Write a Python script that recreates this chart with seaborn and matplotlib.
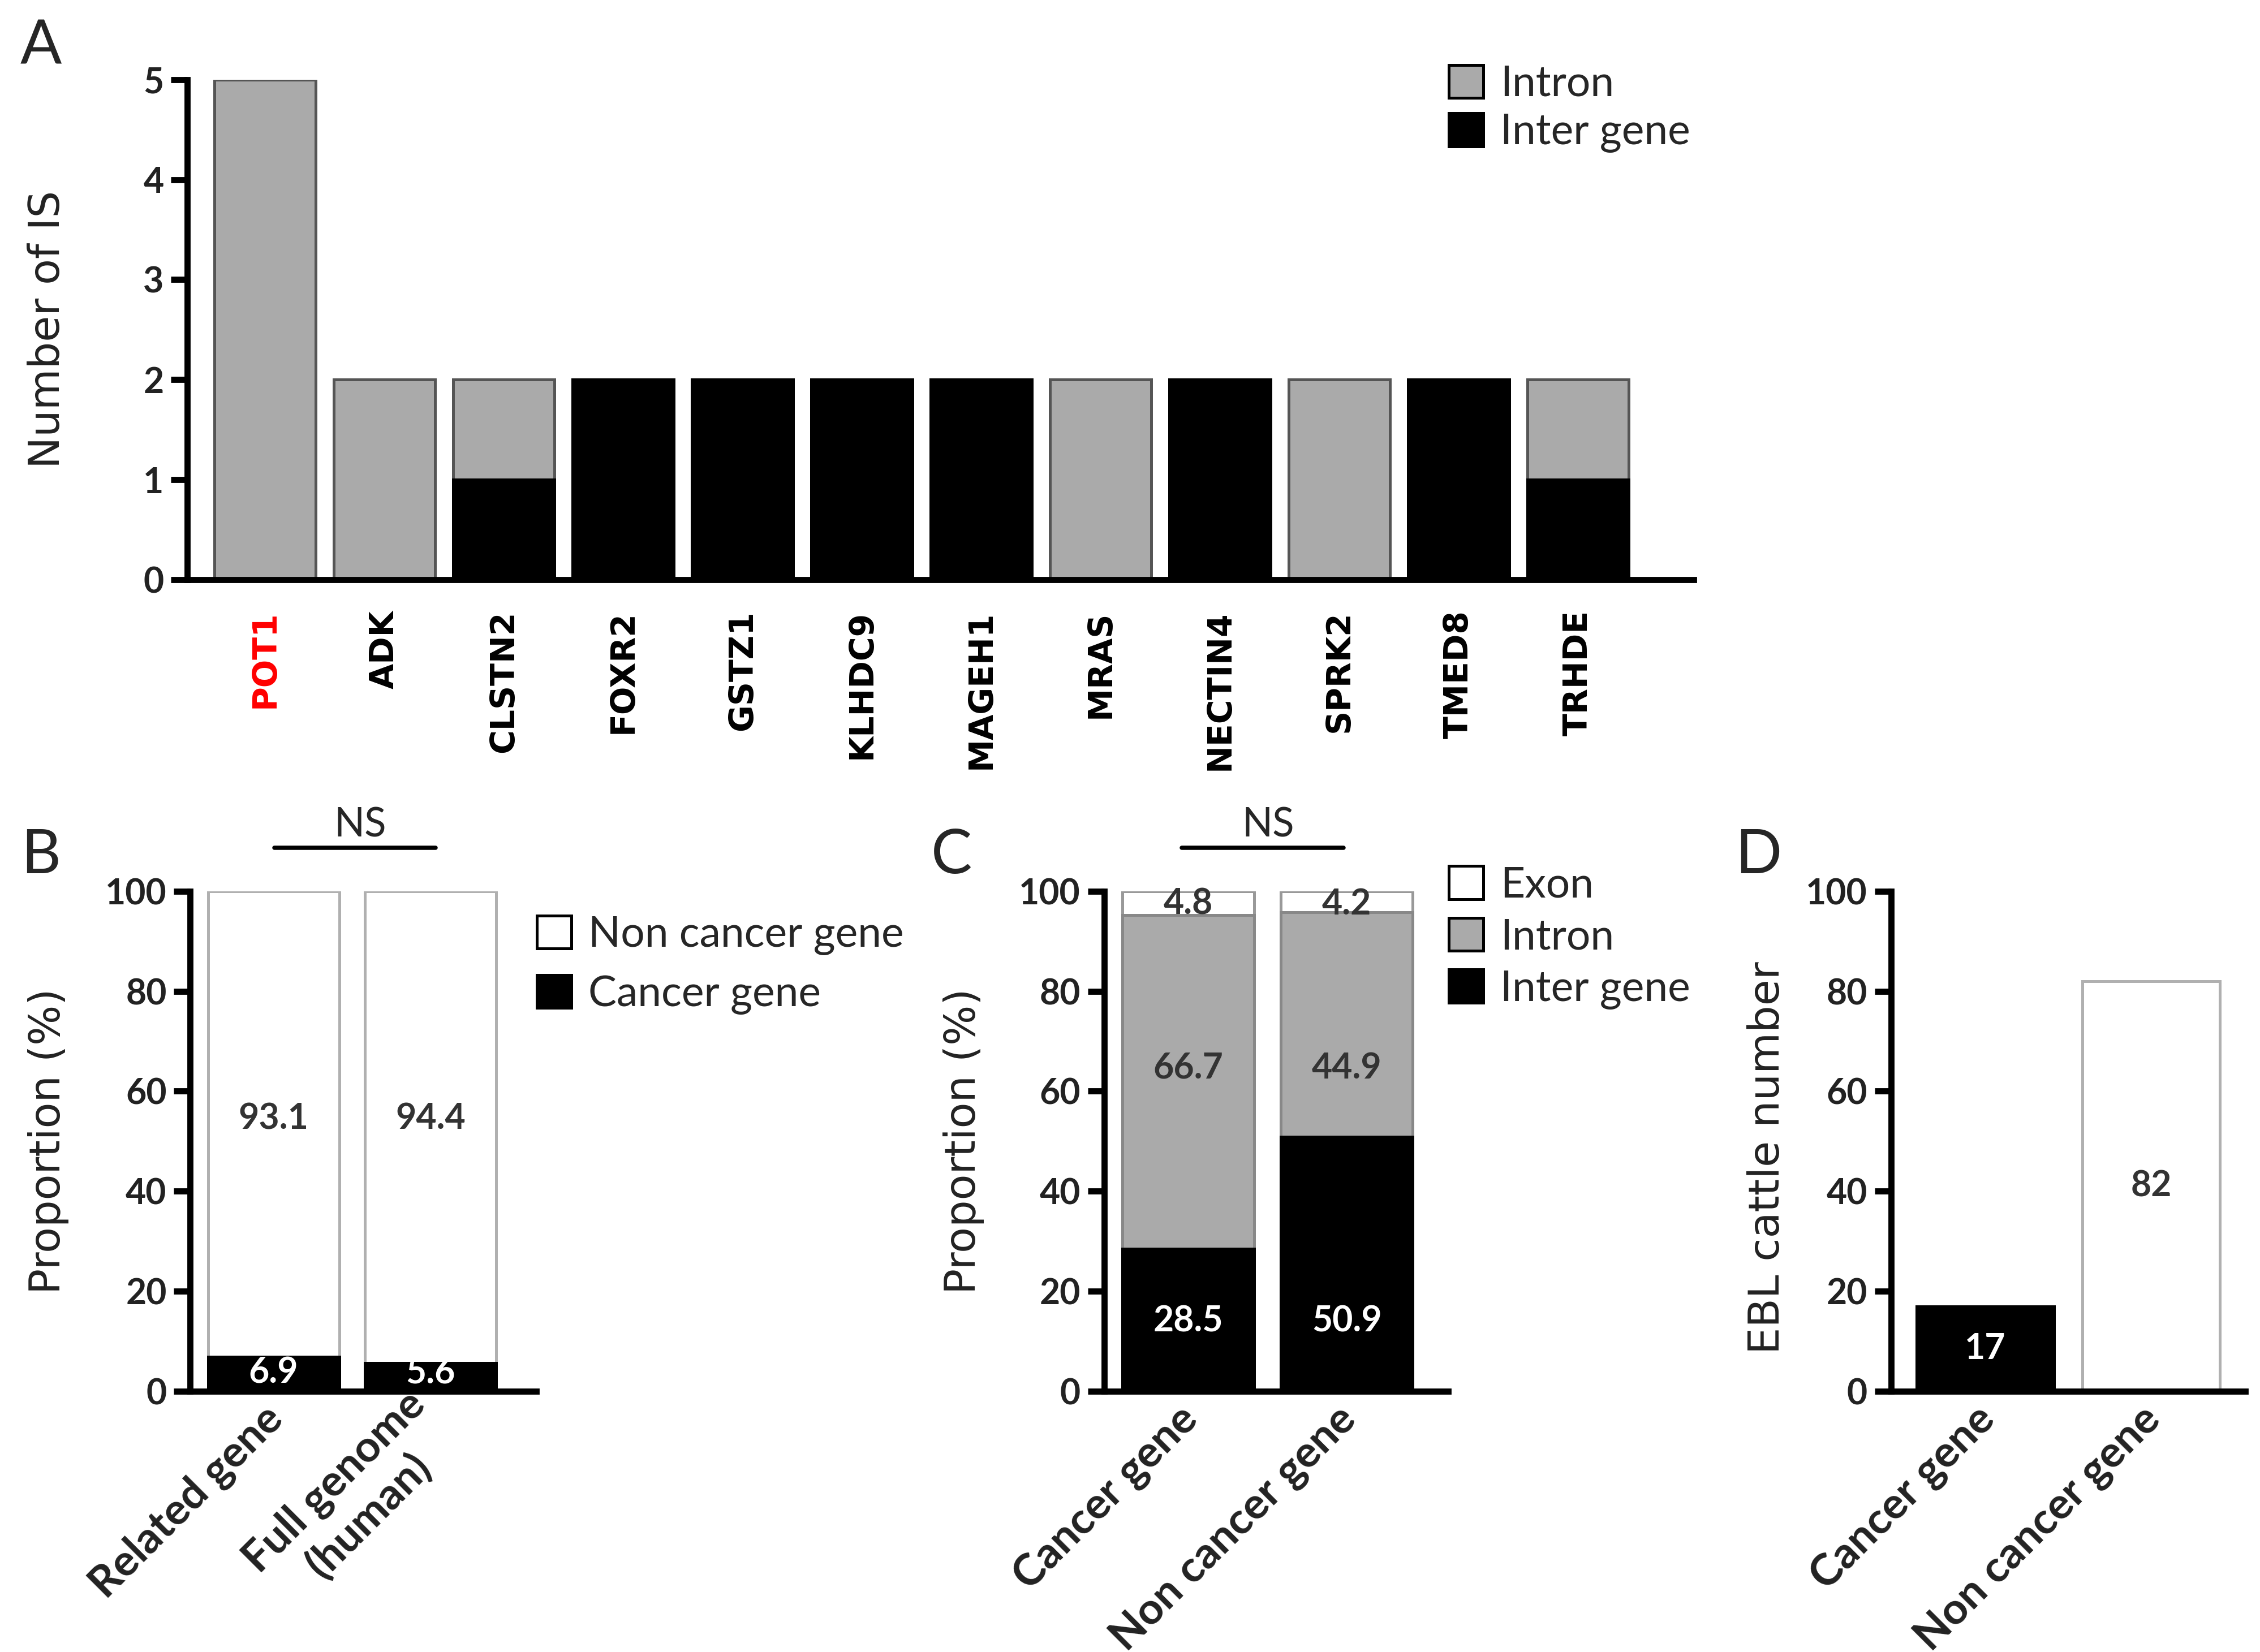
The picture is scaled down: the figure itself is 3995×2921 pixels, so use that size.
import matplotlib
matplotlib.use("Agg")
import matplotlib.pyplot as plt
import seaborn as sns
import pandas as pd
from matplotlib.patches import Patch

# Panel A: integration sites per gene
genes = ["POT1", "ADK", "CLSTN2", "FOXR2", "GSTZ1", "KLHDC9",
         "MAGEH1", "MRAS", "NECTIN4", "SPRK2", "TMED8", "TRHDE"]
intron_is = [5, 2, 1, 0, 0, 0, 0, 2, 0, 2, 0, 1]
inter_is = [0, 0, 1, 2, 2, 2, 2, 0, 2, 0, 2, 1]

# Panel B: proportion of cancer genes
b_groups = ["Related gene", "Full genome\n(human)"]
b_cancer = [6.9, 5.6]
b_non_cancer = [93.1, 94.4]

# Panel C: location of IS
c_groups = ["Cancer gene", "Non cancer gene"]
c_inter = [28.5, 50.9]
c_intron = [66.7, 44.9]
c_exon = [4.8, 4.2]

# Panel D: EBL cattle
d_groups = ["Cancer gene", "Non cancer gene"]
d_cattle = [17, 82]

GRAY = "#aaaaaa"
TXT = "#333333"

sns.set_style("ticks")
plt.rcParams["font.family"] = ["Lato", "DejaVu Sans"]

fig = plt.figure(figsize=(3995 / 300, 2921 / 300), dpi=300)


def style_axis(ax, ylabel, label_x, label_y=0.5):
    sns.despine(ax=ax)
    for s in ["left", "bottom"]:
        ax.spines[s].set_linewidth(2.6)
        ax.spines[s].set_color("black")
    ax.tick_params(axis="y", length=7, width=2.6, pad=3, labelsize=15, colors="black")
    ax.tick_params(axis="x", length=0)
    for lab in ax.get_yticklabels():
        lab.set_fontweight("bold")
        lab.set_color("#222222")
    ax.set_xlabel("")
    ax.set_ylabel(ylabel, fontsize=18, family="DejaVu Sans", color="#222222")
    ax.yaxis.set_label_coords(label_x, label_y)


def bar(ax, x, y, color, edge, width, lw=1.2):
    sns.barplot(x=x, y=y, order=x, color=color, edgecolor=edge, linewidth=lw,
                width=width, saturation=1, errorbar=None, ax=ax)


def angled_labels(ax, labels):
    ax.set_xticks(range(len(labels)))
    ax.set_xticklabels(labels, rotation=45, ha="right", va="center_baseline",
                       rotation_mode="anchor", fontsize=18.5, fontweight="bold",
                       multialignment="center", color="#222222")
    ax.tick_params(axis="x", pad=8)


def legend(handles, anchor, spacing):
    fig.legend(handles=handles, loc="upper left", bbox_to_anchor=anchor,
               frameon=False, fontsize=18, handlelength=0.82, handleheight=0.82,
               handletextpad=0.4, labelspacing=spacing, borderpad=0, borderaxespad=0)


# ---- A ----
axA = fig.add_axes([0.0829, 0.6491, 0.6665, 0.3027])
df_a = pd.DataFrame({"gene": genes, "intron": intron_is, "inter": inter_is})
df_a["total"] = df_a["intron"] + df_a["inter"]
bar(axA, df_a["gene"].tolist(), df_a["total"].tolist(), GRAY, "#555555", 0.85)
bar(axA, df_a["gene"].tolist(), df_a["inter"].tolist(), "black", "black", 0.85)
axA.set_ylim(0, 5)
axA.set_xlim(-0.65, 11.97)
axA.set_yticks(range(6))
style_axis(axA, "Number of IS", -0.079)
axA.set_xticks(range(len(genes)))
axA.set_xticklabels(genes, rotation=90, fontsize=14, fontweight="bold",
                    family="DejaVu Sans")
axA.tick_params(axis="x", pad=13)
for lab in axA.get_xticklabels():
    lab.set_color("red" if lab.get_text() == "POT1" else "black")

legend([Patch(facecolor=GRAY, edgecolor="black", linewidth=1.2, label="Intron"),
        Patch(facecolor="black", edgecolor="black", linewidth=1.2, label="Inter gene")],
       (0.641, 0.961), 0.22)

# ---- B ----
axB = fig.add_axes([0.0842, 0.1579, 0.1530, 0.3026])
b_total = [c + n for c, n in zip(b_cancer, b_non_cancer)]
bar(axB, b_groups, b_total, "white", "#b0b0b0", 0.835)
bar(axB, b_groups, b_cancer, "black", "black", 0.835)
axB.set_ylim(0, 100)
axB.set_xlim(-0.53, 1.67)
axB.set_yticks(range(0, 101, 20))
style_axis(axB, "Proportion (%)", -0.35, 0.5)
angled_labels(axB, b_groups)
for i in range(len(b_groups)):
    axB.text(i, 3.6, f"{b_cancer[i]}", ha="center", va="center", color="white",
             fontsize=15, fontweight="bold")
    axB.text(i, 54.5, f"{b_non_cancer[i]}", ha="center", va="center", color=TXT,
             fontsize=15, fontweight="bold")
axB.plot([0.005, 1.03], [108.7, 108.7], color="black", lw=1.8, clip_on=False)
axB.text(0.55, 109.6, "NS", ha="center", va="bottom", fontsize=17, clip_on=False)

legend([Patch(facecolor="white", edgecolor="black", linewidth=1.2, label="Non cancer gene"),
        Patch(facecolor="black", edgecolor="black", linewidth=1.2, label="Cancer gene")],
       (0.2375, 0.446), 0.45)

# ---- C ----
axC = fig.add_axes([0.4885, 0.1579, 0.1524, 0.3026])
c_total = [a + b + c for a, b, c in zip(c_inter, c_intron, c_exon)]
c_mid = [a + b for a, b in zip(c_inter, c_intron)]
bar(axC, c_groups, c_total, "white", "#999999", 0.83)
bar(axC, c_groups, c_mid, GRAY, "#888888", 0.83)
bar(axC, c_groups, c_inter, "black", "black", 0.83)
axC.set_ylim(0, 100)
axC.set_xlim(-0.53, 1.64)
axC.set_yticks(range(0, 101, 20))
style_axis(axC, "Proportion (%)", -0.347, 0.5)
angled_labels(axC, c_groups)
for i in range(len(c_groups)):
    axC.text(i, 14, f"{c_inter[i]}", ha="center", va="center", color="white",
             fontsize=15, fontweight="bold")
    axC.text(i, 64.6, f"{c_intron[i]}", ha="center", va="center", color=TXT,
             fontsize=15, fontweight="bold")
    axC.text(i, 97.4, f"{c_exon[i]}", ha="center", va="center", color=TXT,
             fontsize=15, fontweight="bold")
axC.plot([-0.04, 0.98], [108.7, 108.7], color="black", lw=1.8, clip_on=False)
axC.text(0.505, 109.6, "NS", ha="center", va="bottom", fontsize=17, clip_on=False)

legend([Patch(facecolor="white", edgecolor="black", linewidth=1.2, label="Exon"),
        Patch(facecolor=GRAY, edgecolor="black", linewidth=1.2, label="Intron"),
        Patch(facecolor="black", edgecolor="black", linewidth=1.2, label="Inter gene")],
       (0.641, 0.476), 0.3)

# ---- D ----
axD = fig.add_axes([0.8367, 0.1579, 0.1569, 0.3026])
bar(axD, d_groups, [d_cattle[0], 0], "black", "black", 0.83)
bar(axD, d_groups, [0, d_cattle[1]], "white", "#b0b0b0", 0.83)
axD.set_ylim(0, 100)
axD.set_xlim(-0.57, 1.57)
axD.set_yticks(range(0, 101, 20))
style_axis(axD, "EBL cattle number", -0.29, 0.467)
angled_labels(axD, d_groups)
axD.text(0, d_cattle[0] / 2, f"{d_cattle[0]}", ha="center", va="center", color="white",
         fontsize=15, fontweight="bold")
axD.text(1, d_cattle[1] / 2, f"{d_cattle[1]}", ha="center", va="center", color=TXT,
         fontsize=15, fontweight="bold")

# panel letters
for letter, x, y in [("A", 0.018, 0.972), ("B", 0.018, 0.482),
                     ("C", 0.421, 0.482), ("D", 0.778, 0.482)]:
    fig.text(x, y, letter, ha="center", va="center", fontsize=26)

fig.savefig("out.png", dpi=300)
